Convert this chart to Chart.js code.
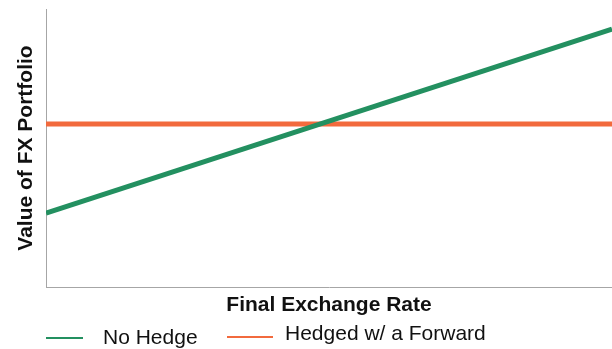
<!DOCTYPE html>
<html>
<head>
<meta charset="utf-8">
<script src="https://cdn.jsdelivr.net/npm/chart.js@4/dist/chart.umd.min.js"></script>
<style>
  html, body { margin: 0; padding: 0; background: #fff; }
  .wrap { position: relative; width: 612px; height: 349px; font-family: "Liberation Sans", Arial, sans-serif; }
  canvas { display: block; }
  .legend .swatch { position: absolute; height: 2px; }
  .legend .label { position: absolute; font-size: 21px; line-height: 21px; color: #111; white-space: nowrap; }
</style>
</head>
<body>
<div class="wrap">
  <canvas id="myChart" width="612" height="349"></canvas>
  <div class="legend">
    <div class="swatch" style="left:46px;top:337px;width:37px;background:#239060"></div>
    <div class="label" style="left:103px;top:326px">No Hedge</div>
    <div class="swatch" style="left:227px;top:336px;width:46px;background:#f26a3d"></div>
    <div class="label" style="left:285px;top:322px">Hedged w/ a Forward</div>
  </div>
</div>
<script>
// final exchange rate (arbitrary units, no tick labels shown)
const rates = [0, 10];
// portfolio value at each end of the range
const noHedge = [26.6, 92.8];
const hedged = [58.6, 58.6];

const green = '#239060';
const orange = '#f26a3d';
const axisGrey = '#a6a6a6';
const fontFam = '"Liberation Sans", Arial, sans-serif';

new Chart('myChart', {
  type: 'line',
  data: {
    datasets: [{
      label: 'No Hedge',
      data: rates.map((r, i) => ({x: r, y: noHedge[i]})),
      borderColor: green,
      borderWidth: 5,
      pointRadius: 0,
      fill: false
    }, {
      label: 'Hedged w/ a Forward',
      data: rates.map((r, i) => ({x: r, y: hedged[i]})),
      borderColor: orange,
      borderWidth: 5,
      pointRadius: 0,
      fill: false
    }]
  },
  options: {
    responsive: false,
    animation: false,
    layout: {
      autoPadding: false,
      padding: {left: 8, top: 9, right: 0, bottom: 30.8}
    },
    plugins: {
      legend: {display: false},
      tooltip: {enabled: false}
    },
    scales: {
      x: {
        type: 'linear',
        min: 0,
        max: 10,
        grid: {display: false, drawTicks: false},
        border: {display: true, color: axisGrey, width: 1},
        ticks: {display: false},
        title: {
          display: true,
          text: 'Final Exchange Rate',
          color: '#111',
          font: {family: fontFam, size: 21, weight: 'bold'},
          padding: {top: 6, bottom: 0}
        }
      },
      y: {
        min: 0,
        max: 100,
        grid: {display: false, drawTicks: false},
        border: {display: true, color: axisGrey, width: 1},
        ticks: {display: false},
        title: {
          display: true,
          text: 'Value of FX Portfolio',
          color: '#111',
          font: {family: fontFam, size: 21, weight: 'bold'},
          padding: {top: 5.4, bottom: 7.4}
        }
      }
    }
  }
});
</script>
</body>
</html>
